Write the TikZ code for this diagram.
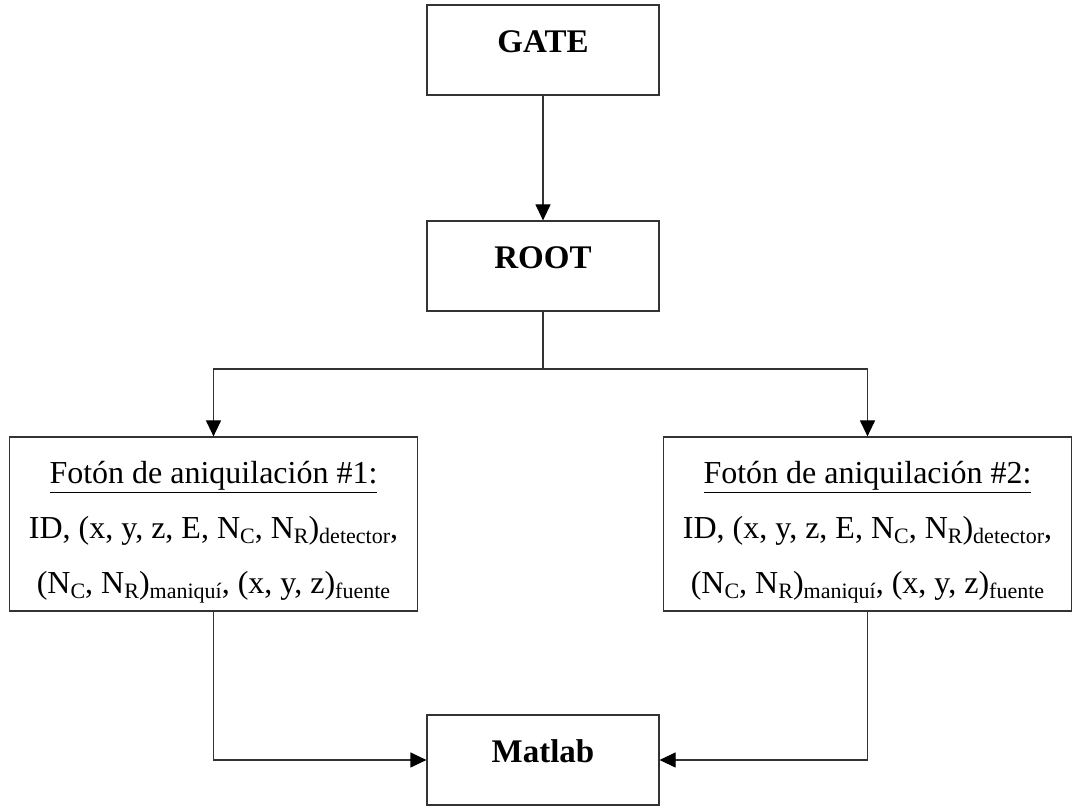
\documentclass[tikz,border=0pt]{standalone}
\usepackage{fontspec}
\setmainfont{Liberation Serif}
\usepackage{tikz}
\usetikzlibrary{arrows.meta,positioning,calc}

% small lowered text, as the subscripts of the data boxes
\newcommand{\lowtxt}[1]{\raisebox{-2.4pt}{\fontsize{11}{11}\selectfont #1}}

\begin{document}
\begin{tikzpicture}[
  x=0.5pt, y=0.5pt,
  stage/.style={draw=black!80, line width=0.6pt, inner sep=0pt,
                minimum width=116pt, text height=24pt, text depth=21pt,
                font=\fontsize{16.5}{18}\selectfont\bfseries},
  photon/.style={draw=black!80, line width=0.6pt, inner sep=0pt,
                 minimum width=204pt, minimum height=87pt, align=center,
                 font=\fontsize{16}{27.5}\selectfont},
  flow/.style={draw=black!80, line width=0.6pt,
               -{Triangle[length=8pt,width=7.5pt,color=black]}},
  link/.style={draw=black!80, line width=0.6pt}]

\useasboundingbox (0,0) rectangle (1073,-806);

% ================= chain GATE -> ROOT ======================================
\node[stage] (gate) at (543,-50) {GATE};
\node[stage] (root) at (543,-266) {ROOT};
\draw[flow] (gate) -- (root);

% ================= the two annihilation photons ============================
\node[photon] (phot1) at (213.5,-524)
  {\rule{0pt}{19pt}\underline{Fotón de aniquilación \#1:}\\
   ID, (x, y, z, E, N\lowtxt{C}, N\lowtxt{R})\lowtxt{detector},\\
   (N\lowtxt{C}, N\lowtxt{R})\lowtxt{maniquí}, (x, y, z)\lowtxt{fuente}};
\node[photon] (phot2) at (867.5,-524)
  {\rule{0pt}{19pt}\underline{Fotón de aniquilación \#2:}\\
   ID, (x, y, z, E, N\lowtxt{C}, N\lowtxt{R})\lowtxt{detector},\\
   (N\lowtxt{C}, N\lowtxt{R})\lowtxt{maniquí}, (x, y, z)\lowtxt{fuente}};

\coordinate (split) at (543,-369);
\draw[link] (root) -- (split);
\draw[flow] (split) -| (phot1);
\draw[flow] (split) -| (phot2);

% ================= everything goes to Matlab ===============================
\node[stage] (matlab) at (543,-760) {Matlab};
\draw[flow] (phot1) |- (matlab);
\draw[flow] (phot2) |- (matlab);

\end{tikzpicture}
\end{document}
